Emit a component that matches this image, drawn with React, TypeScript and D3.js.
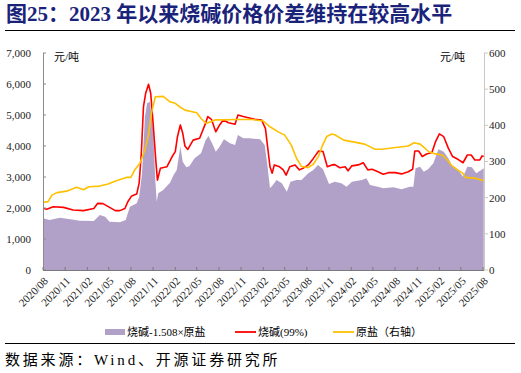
import React, { useEffect } from "react";
import * as d3 from "d3";

// ---------- DATA ----------
const causticDates = [
  "2020-08-01","2020-08-16","2020-09-13","2020-10-25","2020-12-04","2021-01-16","2021-02-28","2021-03-16",
  "2021-04-07","2021-05-28","2021-06-16","2021-07-07","2021-07-19","2021-08-04","2021-08-25","2021-09-04",
  "2021-09-13","2021-09-22","2021-10-01","2021-10-13","2021-10-22","2021-11-01","2021-11-13","2021-11-19",
  "2021-12-01","2021-12-28","2022-01-19","2022-02-01","2022-02-10","2022-02-22","2022-03-04","2022-03-13",
  "2022-03-25","2022-04-16","2022-05-13","2022-06-04","2022-06-16","2022-07-01","2022-07-19","2022-08-04",
  "2022-08-19","2022-09-10","2022-10-07","2022-10-19","2022-11-10","2022-12-01","2022-12-28","2023-01-25",
  "2023-02-10","2023-02-19","2023-03-01","2023-03-10","2023-03-19","2023-04-10","2023-04-25","2023-05-07",
  "2023-05-22","2023-06-13","2023-07-01","2023-07-16","2023-08-07","2023-08-28","2023-09-19","2023-10-07",
  "2023-10-25","2023-11-13","2023-11-25","2023-12-16","2024-01-07","2024-01-19","2024-02-04","2024-03-01",
  "2024-03-22","2024-04-10","2024-04-28","2024-05-22","2024-06-13","2024-07-04","2024-08-01","2024-08-28",
  "2024-09-25","2024-10-13","2024-10-22","2024-11-07","2024-11-22","2024-12-10","2025-01-01","2025-01-16",
  "2025-02-01","2025-02-19","2025-03-10","2025-03-28","2025-04-19","2025-05-10","2025-05-28","2025-06-13",
  "2025-06-28","2025-07-19","2025-07-28","2025-08-04",
];
const causticValues = [
  1990,1960,2040,2020,1935,1915,1985,2150,
  2140,1915,1915,1985,2200,2390,2450,2800,
  3760,5270,5700,5990,5700,4730,3440,2900,
  3280,3330,3660,3820,4300,4680,4410,4000,
  3890,4190,4250,4680,4950,4860,4460,4680,
  4840,4750,4700,5000,4950,4910,4860,4840,
  4570,3980,3330,3120,3390,3330,3230,3060,
  3330,3390,3230,3280,3390,3600,3840,3820,
  3330,3390,3400,3300,3330,3200,3360,3390,
  3460,3230,3250,3170,3090,3140,3140,3100,
  3170,3250,3840,3840,3660,3740,3790,4140,
  4390,4300,3930,3660,3570,3460,3710,3710,
  3550,3550,3680,3660,
];

const saltDates = [
  "2020-08-01","2020-08-22","2020-09-07","2020-09-28","2020-11-07","2020-12-19","2021-01-16","2021-02-07",
  "2021-03-25","2021-04-28","2021-06-01","2021-07-13","2021-08-01","2021-08-16","2021-09-07","2021-09-28",
  "2021-10-13","2021-10-25","2021-11-10","2021-12-13","2022-01-10","2022-02-01","2022-02-22","2022-03-13",
  "2022-05-01","2022-05-19","2022-06-10","2022-07-16","2022-08-19","2022-10-07","2022-12-16","2023-02-01",
  "2023-03-01","2023-04-04","2023-05-01","2023-05-28","2023-06-19","2023-07-10","2023-08-07","2023-08-28",
  "2023-09-19","2023-10-04","2023-10-22","2023-11-13","2023-11-25","2024-01-01","2024-02-04","2024-03-28",
  "2024-05-10","2024-06-07","2024-07-25","2024-09-25","2024-10-19","2024-11-13","2024-12-04","2024-12-19",
  "2025-01-16","2025-02-13","2025-03-04","2025-03-22","2025-04-19","2025-05-10","2025-05-19","2025-06-28",
  "2025-07-25","2025-08-04",
];
const saltValues = [
  187,189,207,214,218,229,222,230,
  232,238,247,256,256,276,295,332,
  373,433,479,480,465,461,450,442,
  435,419,405,415,415,416,416,412,
  396,382,373,346,309,286,283,293,
  315,343,369,376,374,359,355,348,
  334,334,338,343,352,348,336,327,
  321,318,306,290,276,267,256,254,
  249,247,
];

const spreadDates = [
  "2020-08-01","2020-08-28","2020-10-10","2020-11-22","2021-01-01","2021-02-28","2021-03-25","2021-04-16",
  "2021-05-04","2021-06-16","2021-07-10","2021-07-28","2021-08-25","2021-09-04","2021-09-16","2021-09-28",
  "2021-10-07","2021-10-19","2021-11-01","2021-11-10","2021-11-16","2021-11-22","2021-12-13","2022-01-10",
  "2022-01-25","2022-02-07","2022-02-22","2022-03-04","2022-03-19","2022-04-01","2022-04-22","2022-05-19",
  "2022-06-07","2022-06-19","2022-07-07","2022-07-19","2022-08-04","2022-08-22","2022-09-16","2022-10-07",
  "2022-10-19","2022-11-10","2022-12-07","2023-01-19","2023-02-07","2023-02-19","2023-03-01","2023-03-13",
  "2023-03-28","2023-04-19","2023-05-10","2023-05-25","2023-06-19","2023-07-10","2023-08-07","2023-08-28",
  "2023-09-16","2023-10-07","2023-11-01","2023-11-25","2023-12-22","2024-01-13","2024-02-04","2024-03-16",
  "2024-04-04","2024-04-19","2024-05-22","2024-06-13","2024-07-25","2024-08-28","2024-10-01","2024-10-16",
  "2024-10-25","2024-11-13","2024-11-28","2024-12-16","2025-01-07","2025-01-28","2025-02-19","2025-03-10",
  "2025-03-28","2025-04-25","2025-05-10","2025-05-28","2025-06-16","2025-07-04","2025-07-25","2025-08-04",
];
const spreadValues = [
  1667,1613,1688,1634,1591,1580,1774,1720,
  1559,1538,1613,2043,2151,2366,3118,4946,
  5376,5430,4516,2903,2204,2473,2581,2817,
  3064,3226,3978,3495,3312,3355,3602,3763,
  4194,4323,4032,3817,3978,4215,4086,4032,
  4355,4247,4247,4215,4032,3333,2634,2742,
  2903,2796,2527,2849,2903,2903,3118,3226,
  3387,3247,2774,2849,2796,2688,2849,2903,
  2957,2742,2688,2634,2667,2602,2688,2688,
  3280,3333,3172,3247,3441,3892,3817,3602,
  3333,3172,3011,3333,3312,3118,3226,3280,
];

const xTickLabels = [
  "2020/08","2020/11","2021/02","2021/05","2021/08","2021/11","2022/02","2022/05","2022/08","2022/11",
  "2023/02","2023/05","2023/08","2023/11","2024/02","2024/05","2024/08","2024/11","2025/02","2025/05","2025/08",
];
const leftTicks = [0, 1000, 2000, 3000, 4000, 5000, 6000, 7000];
const rightTicks = [0, 100, 200, 300, 400, 500, 600];

const titleText = "图25：2023 年以来烧碱价格价差维持在较高水平";
const sourceText = "数据来源：Wind、开源证券研究所";
const legendLabels = ["烧碱-1.508×原盐", "烧碱(99%)", "原盐（右轴）"];

// ---------- LAYOUT ----------
const W = 521, H = 373;
const M = { left: 43, right: 484, top: 53, bottom: 270 };
const SERIF = "'Liberation Serif', 'Times New Roman', 'Noto Sans CJK SC', serif";
const COLORS = { area: "#B1A0C7", red: "#FF0000", orange: "#FFC000", title: "#1A237A" };

const parse = d3.timeParse("%Y-%m-%d");
const parseTick = d3.timeParse("%Y/%m");

export default function App() {
  useEffect(() => {
    document.body.style.margin = "0";
  }, []);

  const x = d3.scaleTime()
    .domain([parseTick("2020/08")!, parseTick("2025/08")!])
    .range([M.left, 483]);
  const yL = d3.scaleLinear().domain([0, 7000]).range([M.bottom, M.top]);
  const yR = d3.scaleLinear().domain([0, 600]).range([M.bottom, M.top]);

  const spread = spreadDates.map((d, i) => ({ d: parse(d)!, v: spreadValues[i] }));
  const caustic = causticDates.map((d, i) => ({ d: parse(d)!, v: causticValues[i] }));
  const salt = saltDates.map((d, i) => ({ d: parse(d)!, v: saltValues[i] }));

  const areaGen = d3.area<{ d: Date; v: number }>()
    .x((p) => x(p.d))
    .y0(yL(0))
    .y1((p) => yL(p.v));
  const lineL = d3.line<{ d: Date; v: number }>().x((p) => x(p.d)).y((p) => yL(p.v));
  const lineR = d3.line<{ d: Date; v: number }>().x((p) => x(p.d)).y((p) => yR(p.v));

  const fmt = d3.format(",");
  const legendY = 332;

  return (
    <svg width={W} height={H} style={{ display: "block" }} fontFamily={SERIF}>
      <rect width={W} height={H} fill="#fff" />
      {/* title */}
      <text x={6} y={21} fontSize={21} fontWeight="bold" fill={COLORS.title}>{titleText}</text>
      <line x1={5} x2={515} y1={30.5} y2={30.5} stroke="#000" strokeWidth={1.2} />

      {/* units */}
      <text x={54} y={61} fontSize={11} fill="#000">元/吨</text>
      <text x={440} y={61} fontSize={11} fill="#000">元/吨</text>

      {/* series */}
      <path d={areaGen(spread)!} fill={COLORS.area} />
      <path d={lineL(caustic)!} fill="none" stroke={COLORS.red} strokeWidth={1.6} strokeLinejoin="round" />
      <path d={lineR(salt)!} fill="none" stroke={COLORS.orange} strokeWidth={1.6} strokeLinejoin="round" />

      {/* left axis */}
      <line x1={M.left + 0.5} x2={M.left + 0.5} y1={M.top} y2={M.bottom} stroke="#8c8c8c" />
      {leftTicks.map((t) => (
        <g key={"l" + t}>
          <line x1={M.left} x2={M.left + 3} y1={yL(t)} y2={yL(t)} stroke="#8c8c8c" />
          <text x={31} y={yL(t)} dy="0.35em" textAnchor="end" fontSize={11} fill="#222">{fmt(t)}</text>
        </g>
      ))}

      {/* right axis */}
      <line x1={M.right + 0.5} x2={M.right + 0.5} y1={M.top} y2={M.bottom} stroke="#c8c8c8" />
      {rightTicks.map((t) => (
        <g key={"r" + t}>
          <line x1={M.right} x2={M.right + 4} y1={yR(t)} y2={yR(t)} stroke="#c8c8c8" />
          <text x={489} y={yR(t)} dy="0.35em" textAnchor="start" fontSize={11} fill="#222">{t}</text>
        </g>
      ))}

      {/* bottom axis */}
      <line x1={M.left} x2={M.right} y1={M.bottom + 0.5} y2={M.bottom + 0.5} stroke="#7a7a7a" />
      {xTickLabels.map((lab) => {
        const xx = x(parseTick(lab)!);
        return (
          <g key={lab}>
            <line x1={xx} x2={xx} y1={M.bottom} y2={M.bottom - 3} stroke="#7a7a7a" />
            <text
              transform={`translate(${xx + 3},${M.bottom + 9}) rotate(-45)`}
              textAnchor="end"
              dy="0.35em"
              fontSize={11}
              fill="#222"
            >
              {lab}
            </text>
          </g>
        );
      })}

      {/* legend */}
      <rect x={105} y={legendY - 3} width={20} height={6} fill={COLORS.area} />
      <text x={127} y={legendY} dy="0.35em" fontSize={11} fill="#000">{legendLabels[0]}</text>
      <line x1={235} x2={256} y1={legendY} y2={legendY} stroke={COLORS.red} strokeWidth={1.8} />
      <text x={258} y={legendY} dy="0.35em" fontSize={11} fill="#000">{legendLabels[1]}</text>
      <line x1={333} x2={354} y1={legendY} y2={legendY} stroke={COLORS.orange} strokeWidth={1.8} />
      <text x={356} y={legendY} dy="0.35em" fontSize={11} fill="#000">{legendLabels[2]}</text>

      {/* source */}
      <line x1={5} x2={515} y1={343.5} y2={343.5} stroke="#000" strokeWidth={1.2} />
      <text x={5} y={365} fontSize={15} letterSpacing={2.8} fill="#000">{sourceText}</text>
    </svg>
  );
}
